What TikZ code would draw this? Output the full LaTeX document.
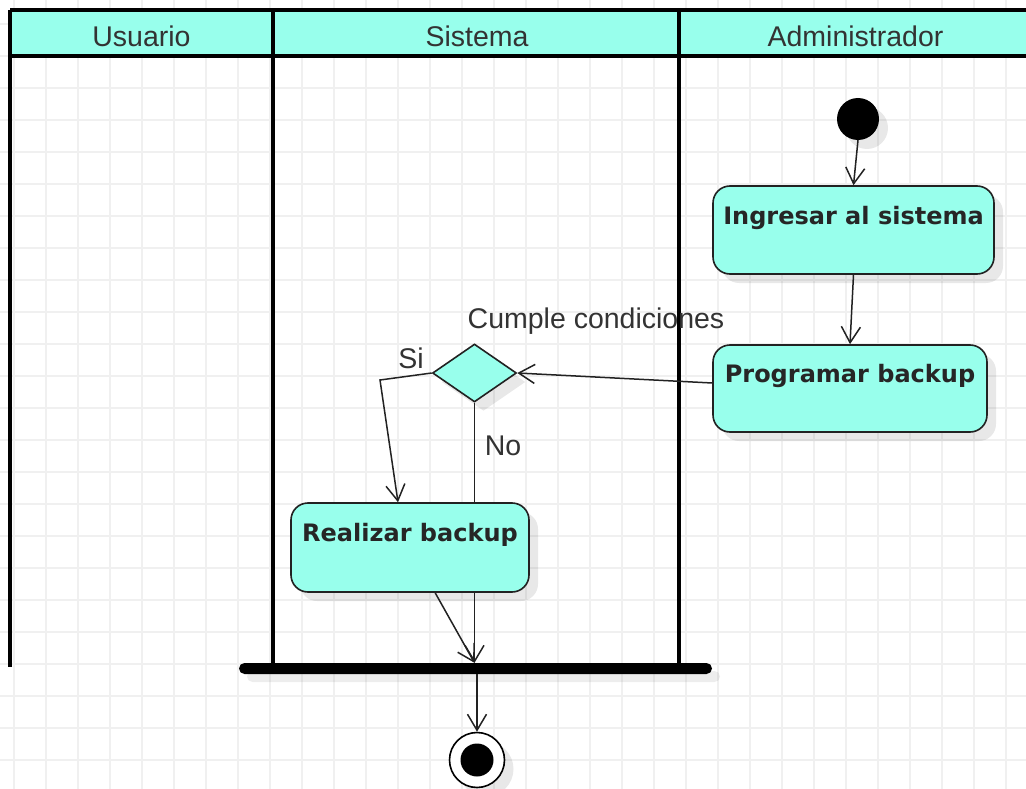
\documentclass[tikz,border=0pt]{standalone}
\usepackage{fontspec}
\setmainfont{Liberation Sans}
\newfontfamily\dvfont{DejaVu Sans}
\usetikzlibrary{arrows.meta,shapes.geometric,shadows,calc}
\definecolor{aqua}{HTML}{98FFEC}
\definecolor{txt}{HTML}{333333}
\definecolor{gridc}{HTML}{F0F0F0}
\definecolor{edge}{HTML}{222222}
\tikzset{
  gridl/.style={draw=gridc, line width=1.6pt},
  lane/.style={line width=4pt, draw=black},
  hdrtxt/.style={text=txt, font=\fontsize{28.5}{30}\selectfont},
  lbl/.style={text=txt, font=\fontsize{28.5}{30}\selectfont, inner sep=0pt},
  shad/.style={drop shadow={shadow xshift=9pt, shadow yshift=-9pt, opacity=0.09, fill=black}},
  actbox/.style={shad, draw=edge, line width=1.6pt, fill=aqua, rounded corners=17pt,
     inner sep=0pt, text=black!85, font=\dvfont\bfseries\fontsize{24}{26}\selectfont,
     text height=18pt, text depth=30pt},
  decis/.style={shad, diamond, draw=edge, line width=1.6pt, fill=aqua, inner sep=0pt,
     minimum width=84pt, minimum height=58pt},
  flow/.style={draw=edge, line width=1.5pt, -{Straight Barb[length=16pt,width=19pt,line width=1.5pt]}},
}
\begin{document}
\begin{tikzpicture}[x=1pt,y=-1pt]
\useasboundingbox (0,0) rectangle (1026,789);
\fill[white] (0,0) rectangle (1026,789);
% grid
\foreach \gx in {14,46,...,1030} \draw[gridl] (\gx,0) -- (\gx,789);
\foreach \gy in {24,56,...,789} \draw[gridl] (0,\gy) -- (1026,\gy);
% header
\fill[aqua] (10,10) rectangle (1026,56);
\node[hdrtxt] (husu) at (141.5,36) {Usuario};
\node[hdrtxt] (hsis) at (477,36) {Sistema};
\node[hdrtxt] (hadm) at (855.5,36) {Administrador};
\draw[lane] (10,10) -- (1026,10);
\draw[lane] (10,56) -- (1026,56);
\draw[lane] (10,10) -- (10,667);
\draw[lane] (273,10) -- (273,664);
\draw[lane] (679,10) -- (679,664);
% join bar
\node[drop shadow={shadow xshift=8pt, shadow yshift=-8pt, opacity=0.07, fill=black},
      fill=black, rounded corners=5.5pt, minimum width=473pt, minimum height=11pt, inner sep=0pt] (bar) at (475.5,668.5) {};
% start / end
\node[shad, circle, fill=black, minimum size=42pt, inner sep=0pt] (start) at (858,119) {};
\node[shad, circle, draw=black, line width=1.6pt, fill=white, minimum size=55pt, inner sep=0pt] (fin) at (477,760) {};
\node[circle, fill=black, minimum size=33pt, inner sep=0pt] (fincore) at (fin.center) {};
% decision (drawn first so that the "No" flow passes behind the activity)
\node[decis] (dec) at (474.5,373) {};
\draw[flow] (dec.south) -- (dec.south |- bar.north);
% activities
\node[actbox, minimum width=281pt, minimum height=88pt] (ing) at (853.5,230) {Ingresar al sistema};
\node[actbox, minimum width=274pt, minimum height=87pt] (prog) at (850,388.5) {Programar backup};
\node[actbox, minimum width=238pt, minimum height=89pt] (real) at (410,547.5) {Realizar backup};
% labels
\node[lbl] (lcond) at (596,321) {Cumple condiciones};
\node[lbl] (lsi) at (411,358) {Si};
\node[lbl] (lno) at (503,446) {No};
% connectors
\draw[flow] (start.south) -- (ing.north);
\draw[flow] (ing.south) -- (prog.north);
\draw[flow] ([yshift=5.5pt]prog.west) -- (dec.east);
\coordinate (sicorner) at (380,380);
\draw[flow] (dec.west) -- (sicorner) -- ([xshift=-12pt]real.north);
\draw[flow] ($(real.south west)!0.605!(real.south east)$) -- (dec.south |- bar.north);
\draw[flow] (bar.south -| fin.north) -- (fin.north);
\end{tikzpicture}
\end{document}
